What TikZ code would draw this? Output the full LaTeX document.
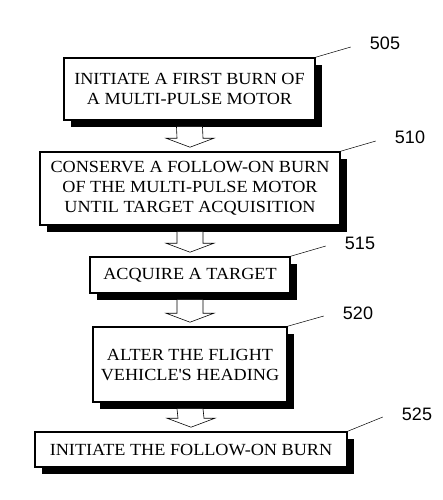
\documentclass[tikz,border=0pt]{standalone}
\usepackage{fontspec}
\setmainfont[FakeStretch=1.07]{Liberation Serif}
\setsansfont{Liberation Sans}
\usetikzlibrary{calc,shadows}
\newcommand{\flowarrow}[2]{%
  \draw[hollow] ($(#1.south)+(-13,6)$) -- ($(#2.north)+(-13,-13)$)
    -- ($(#2.north)+(-24,-13)$) -- ($(#2.north)+(0,-4)$)
    -- ($(#2.north)+(24,-13)$) -- ($(#2.north)+(13,-13)$)
    -- ($(#1.south)+(13,6)$);}
\begin{document}
\begin{tikzpicture}[x=1pt, y=-1pt,
  stepbox/.style={draw, line width=1.6pt, fill=white, align=center,
                  inner sep=0pt, font=\fontsize{17}{20}\selectfont,
                  drop shadow={shadow xshift=7pt, shadow yshift=-7pt,
                               fill=black, opacity=1}},
  hollow/.style={draw, line width=0.6pt, fill=white},
  refnum/.style={font=\sffamily\fontsize{18}{18}\selectfont, inner sep=1pt},
  leader/.style={line width=0.5pt},
]
\useasboundingbox (0,0) rectangle (443,500);
\node[stepbox, minimum width=251, minimum height=62] (s505) at (189.5,89)
  {INITIATE A FIRST BURN OF\\A MULTI-PULSE MOTOR};
\node[stepbox, minimum width=300, minimum height=73] (s510) at (190,188.5)
  {CONSERVE A FOLLOW-ON BURN\\OF THE MULTI-PULSE MOTOR\\UNTIL TARGET ACQUISITION};
\node[stepbox, minimum width=200, minimum height=36] (s515) at (190,275)
  {ACQUIRE A TARGET};
\node[stepbox, minimum width=194, minimum height=75] (s520) at (190,364.5)
  {ALTER THE FLIGHT\\VEHICLE\textquotesingle S HEADING};
\node[stepbox, minimum width=312, minimum height=35] (s525) at (191,449.5)
  {INITIATE THE FOLLOW-ON BURN};

% reference numerals
\node[refnum] (l505) at (385,43)  {505};
\node[refnum] (l510) at (410,137) {510};
\node[refnum] (l515) at (360,243) {515};
\node[refnum] (l520) at (358,313) {520};
\node[refnum] (l525) at (417,414) {525};

\draw[leader] (s505.north east) -- ($(l505.west)+(-18,4)$);
\draw[leader] (s510.north east) -- ($(l510.west)+(-18,4)$);
\draw[leader] (s515.north east) -- ($(l515.west)+(-18,3)$);
\draw[leader] (s520.north east) -- ($(l520.west)+(-18,3)$);
\draw[leader] (s525.north east) -- ($(l525.west)+(-18,3)$);

% block arrows between steps
\flowarrow{s505}{s510}
\flowarrow{s510}{s515}
\flowarrow{s515}{s520}
\flowarrow{s520}{s525}
\end{tikzpicture}
\end{document}
